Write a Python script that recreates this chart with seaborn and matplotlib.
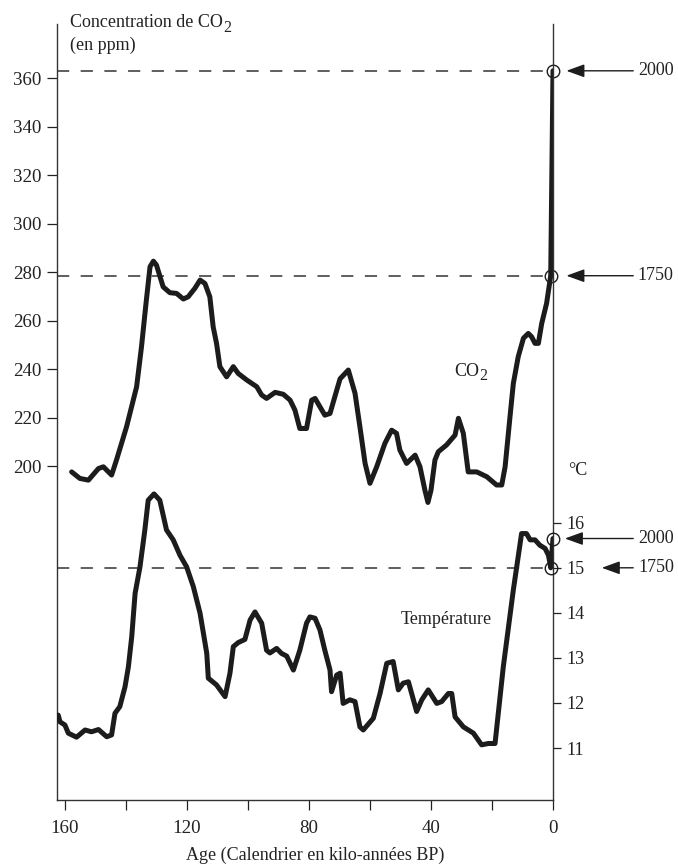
import matplotlib
matplotlib.use("Agg")
import matplotlib.pyplot as plt
import numpy as np
import pandas as pd
import seaborn as sns

# ---- data (ages in thousands of years before present) ----
co2_age = [157.8, 155.1, 152.3, 149.0, 147.4, 144.7, 143.1, 139.8, 136.5, 134.9,
           133.3, 132.1, 131.0, 130.0, 127.8, 125.6, 123.4, 121.2, 119.6, 117.4,
           115.7, 114.1, 112.5, 111.4, 110.3, 109.2, 107.0, 104.8, 103.2, 100.4,
           97.1, 95.5, 93.9, 91.1, 88.4, 86.2, 84.6, 83.0, 80.8, 79.1,
           78.0, 74.8, 73.1, 70.9, 69.8, 67.1, 64.9, 63.3, 61.6, 60.0,
           57.8, 55.1, 52.9, 51.3, 50.2, 48.0, 45.2, 43.6, 42.0, 41.0,
           40.0, 38.7, 37.6, 34.9, 32.1, 31.0, 29.4, 27.8, 25.0, 21.7,
           18.5, 16.8, 15.7, 14.1, 13.0, 11.4, 9.7, 8.1, 7.0, 5.9,
           4.8, 3.7, 2.1, 0.75, 0.0]
co2_ppm = [197.6, 194.9, 194.2, 199.0, 199.7, 196.3, 202.5, 216.2, 232.7, 249.2,
           268.5, 282.2, 284.5, 282.9, 273.9, 271.5, 271.2, 268.9, 269.8, 273.3,
           276.7, 275.3, 269.8, 257.4, 250.6, 241.0, 236.8, 241.0, 238.2, 235.5,
           232.7, 229.3, 227.9, 230.4, 229.6, 227.2, 223.1, 215.5, 215.5, 227.2,
           227.9, 221.0, 221.7, 231.3, 236.0, 239.6, 230.0, 216.2, 201.1, 192.9,
           199.7, 209.4, 214.8, 213.5, 206.6, 201.1, 204.5, 199.7, 190.1, 185.0,
           190.0, 202.5, 205.9, 208.7, 212.8, 219.7, 213.5, 197.6, 197.6, 195.6,
           192.2, 192.2, 199.7, 220.3, 234.1, 245.1, 252.7, 254.7, 253.3, 250.6,
           250.6, 258.8, 267.1, 278.5, 363.0]

temp_age = [162.2, 161.6, 160.0, 158.9, 156.2, 153.4, 151.3, 149.0, 146.3, 144.7,
            143.6, 142.0, 140.3, 139.2, 138.1, 137.0, 135.4, 133.8, 132.7, 130.8,
            128.9, 126.7, 124.5, 122.3, 120.1, 117.9, 115.7, 113.5, 113.0, 110.3,
            107.5, 105.9, 104.8, 103.2, 101.0, 99.3, 97.7, 95.5, 93.9, 92.8,
            90.6, 89.0, 87.3, 85.1, 83.0, 80.8, 79.7, 78.0, 76.4, 74.8,
            73.1, 72.6, 70.9, 69.8, 68.8, 66.6, 64.9, 63.3, 62.2, 58.9,
            56.7, 54.5, 52.4, 50.7, 49.1, 47.4, 44.7, 43.0, 40.9, 38.1,
            36.5, 34.3, 33.2, 32.1, 29.4, 26.1, 23.4, 21.2, 19.0, 16.3,
            13.0, 10.3, 8.7, 7.5, 5.9, 4.3, 2.6, 1.5, 1.0, 0.75, 0.0]
temp_c = [11.73, 11.58, 11.51, 11.33, 11.24, 11.40, 11.36, 11.41, 11.25, 11.29,
          11.77, 11.92, 12.36, 12.80, 13.47, 14.43, 15.02, 15.84, 16.50, 16.64,
          16.50, 15.84, 15.62, 15.28, 15.02, 14.58, 13.99, 13.10, 12.55, 12.40,
          12.14, 12.66, 13.25, 13.34, 13.41, 13.84, 14.02, 13.77, 13.17, 13.11,
          13.21, 13.10, 13.04, 12.73, 13.17, 13.77, 13.91, 13.88, 13.62, 13.17,
          12.73, 12.25, 12.62, 12.66, 11.99, 12.07, 12.03, 11.47, 11.40, 11.66,
          12.21, 12.88, 12.92, 12.29, 12.44, 12.47, 11.81, 12.07, 12.29, 11.99,
          12.03, 12.21, 12.21, 11.69, 11.47, 11.33, 11.07, 11.10, 11.10, 12.80,
          14.51, 15.76, 15.76, 15.62, 15.62, 15.50, 15.43, 15.28, 15.10, 15.00, 15.65]

# reference levels for the years 1750 and 2000
years = ["1750", "2000"]
co2_marks = [278.5, 363.0]
temp_marks = [15.0, 15.65]
mark_ages = [0.75, 0.0]

co2_ticks = [200, 220, 240, 260, 280, 300, 320, 340, 360]
temp_ticks = [11, 12, 13, 14, 15, 16]
age_ticks = [160, 140, 120, 100, 80, 60, 40, 20, 0]
age_ticklabels = ["160", "", "120", "", "80", "", "40", "", "0"]

co2_df = pd.DataFrame({"age": co2_age, "co2": co2_ppm})
temp_df = pd.DataFrame({"age": temp_age, "temp": temp_c})

# ---- style ----
sns.set_theme(style="white")
plt.rcParams["font.family"] = ["Liberation Serif", "DejaVu Serif"]
INK = "#1c1c1c"
TXT = "#222222"
FS = 13
TICK_FS = 13.6

fig = plt.figure(figsize=(6.78, 8.66), dpi=100)
W, H = 678, 866
ax = fig.add_axes([57 / W, 1 - 800 / H, (553 - 57) / W, (800 - 24) / H])
ax2 = ax.twinx()

ax.set_xlim(162.6, 0)
ax.set_ylim(62.3, 382.3)
ax2.set_ylim(9.846, 27.07)

line_kw = dict(color=INK, lw=3.6, solid_joinstyle="round", solid_capstyle="round")
sns.lineplot(data=co2_df, x="age", y="co2", ax=ax, sort=False, estimator=None, **line_kw)
sns.lineplot(data=temp_df, x="age", y="temp", ax=ax2, sort=False, estimator=None, **line_kw)

dash = (0, (8.0, 7.5))
for v in co2_marks:
    ax.axhline(v, color="#333333", lw=1.1, ls=dash, zorder=1)
ax2.axhline(temp_marks[0], color="#333333", lw=1.1, ls=dash, zorder=1)

circle_kw = dict(marker="o", ms=9, mfc="none", mec=INK, mew=1.0, ls="none", clip_on=False, zorder=5)
ax.plot(mark_ages, co2_marks, **circle_kw)
ax2.plot(mark_ages, temp_marks, **circle_kw)

# arrows pointing at the marked values, with year labels
arrow_kw = dict(arrowstyle="-|>,head_length=11,head_width=4", mutation_scale=1,
                color=INK, lw=1.0, shrinkA=0, shrinkB=0)
for yr, v in zip(years, co2_marks):
    ax.annotate("", xy=(-4.4, v), xytext=(-26.3, v), arrowprops=arrow_kw,
                annotation_clip=False)
    ax.text(-27.8, v, yr, ha="left", va="center", fontsize=FS, color=TXT, clip_on=False)
arrow_tips = {"1750": -16.0, "2000": -3.9}
for yr, v in zip(years, temp_marks):
    ax2.annotate("", xy=(arrow_tips[yr], v), xytext=(-26.3, v), arrowprops=arrow_kw,
                 annotation_clip=False)
    ax2.text(-28.0, v, yr, ha="left", va="center", fontsize=FS, color=TXT, clip_on=False)

# axes styling
for s in ["top", "right"]:
    ax.spines[s].set_visible(False)
for s in ["top", "left", "bottom"]:
    ax2.spines[s].set_visible(False)
for sp in [ax.spines["left"], ax.spines["bottom"], ax2.spines["right"]]:
    sp.set_color("#333333")
    sp.set_linewidth(1.0)

ax.set_yticks(co2_ticks)
ax.set_yticklabels([str(t) for t in co2_ticks])
ax.set_xticks(age_ticks)
ax.set_xticklabels(age_ticklabels)
ax2.set_yticks(temp_ticks)
ax2.set_yticklabels([str(t) for t in temp_ticks])

ax.tick_params(axis="y", which="both", left=True, direction="out", length=7.2, width=0.9,
               pad=4.0, labelsize=TICK_FS, colors=TXT)
ax.tick_params(axis="x", which="both", bottom=True, direction="out", length=7.2, width=0.9,
               pad=7, labelsize=TICK_FS, colors=TXT)
ax2.tick_params(axis="y", which="both", right=True, direction="out", length=6, width=0.9,
                pad=3.5, labelsize=FS, colors=TXT)
ax.set_xlabel("")
ax.set_ylabel("")
ax2.set_ylabel("")
ax.grid(False)
ax2.grid(False)


def co2_label(host, prefix, x, y, transform, size, drop):
    """Write prefix + 'CO' followed by a lowered, nearly full-size '2'."""
    base = host.text(x, y, prefix + "CO", transform=transform, ha="left", va="baseline",
                     fontsize=size, color=TXT, clip_on=False)
    host.annotate("2", xy=(1, 0), xycoords=base, xytext=(0.6, -drop),
                  textcoords="offset points", ha="left", va="bottom",
                  fontsize=size * 0.88, color=TXT, annotation_clip=False)
    return base


# in-plot labels
co2_label(ax, "", 32.5, 237.0, ax.transData, FS, 2.6)
ax2.text(35.0, 13.86, "Température", ha="center", va="center", fontsize=FS, color=TXT)
ax2.text(-4.9, 17.17, "°C", ha="left", va="center", fontsize=FS, color=TXT, clip_on=False)

# header of the CO2 axis
co2_label(ax, "Concentration de ", 70 / W, 1 - 27 / H, fig.transFigure, FS, 3.4)
fig.text(70 / W, 1 - 50 / H, "(en ppm)", ha="left", va="baseline", fontsize=FS, color=TXT)
fig.text(315 / W, 1 - 855 / H, "Age (Calendrier en kilo-années BP)", ha="center",
         va="center", fontsize=FS, color=TXT)

fig.savefig("out.png", dpi=100, facecolor="white")
